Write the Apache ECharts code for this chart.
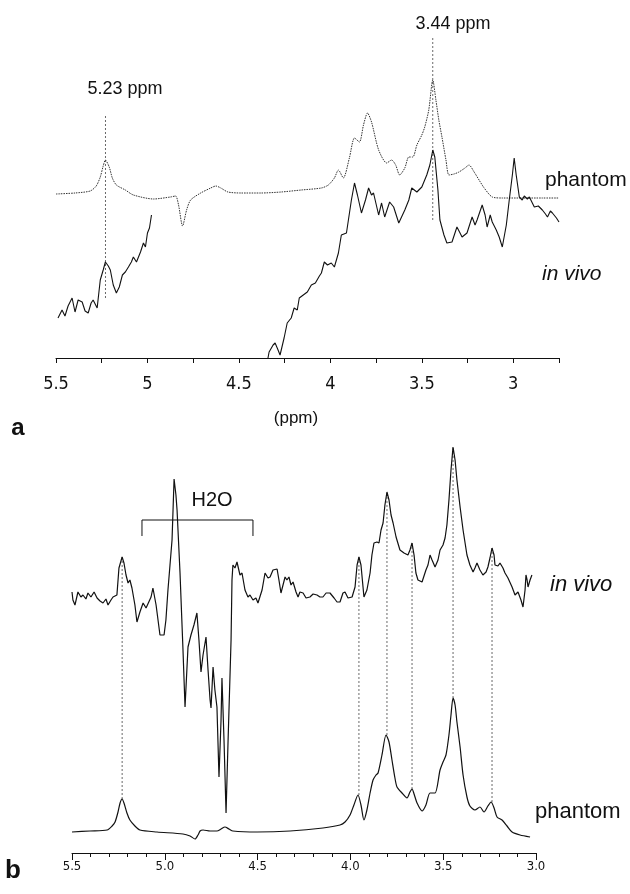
<!DOCTYPE html>
<html><head><meta charset="utf-8">
<script src="https://cdn.jsdelivr.net/npm/echarts@6.0.0/dist/echarts.min.js"></script>
<style>html,body{margin:0;padding:0;background:#fff}#c{width:630px;height:894px}</style>
</head><body><div id="c"></div>
<script>
// ---------- Panel a (ppm, intensity a.u.) ----------
const aPhantom = [[5.500,164],[5.396,165],[5.313,167],[5.280,172],[5.258,181],[5.242,192],[5.230,198],[5.209,191],[5.192,180],[5.170,173],[5.121,168],[5.077,163],[4.967,159],[4.874,161],[4.846,162],[4.830,153],[4.808,132],[4.786,148],[4.764,158],[4.709,165],[4.654,170],[4.626,172],[4.599,170],[4.560,166],[4.489,165],[4.379,165],[4.269,166],[4.159,168],[4.049,170],[4.011,173],[3.978,180],[3.956,188],[3.929,180],[3.896,200],[3.868,220],[3.841,216],[3.819,233],[3.797,245],[3.775,236],[3.736,208],[3.692,195],[3.665,198],[3.643,193],[3.621,183],[3.593,190],[3.571,201],[3.549,201],[3.527,213],[3.500,223],[3.484,231],[3.462,248],[3.440,278],[3.423,258],[3.407,238],[3.390,221],[3.368,198],[3.352,183],[3.324,184],[3.297,186],[3.264,190],[3.242,193],[3.214,186],[3.187,178],[3.159,170],[3.115,161],[3.060,160],[2.951,160],[2.841,160],[2.750,160]];
const aInvivoLeft = [[5.489,40],[5.467,48],[5.451,42],[5.434,52],[5.412,60],[5.396,46],[5.379,58],[5.357,56],[5.341,47],[5.324,45],[5.308,55],[5.297,58],[5.275,50],[5.258,78],[5.242,88],[5.230,96],[5.214,92],[5.203,88],[5.187,73],[5.170,65],[5.154,71],[5.137,83],[5.121,86],[5.104,91],[5.088,96],[5.077,101],[5.060,96],[5.038,106],[5.022,115],[5.011,111],[5.000,125],[4.989,130],[4.978,143]];
const aInvivoRight = [[4.341,0],[4.335,6],[4.313,13],[4.302,15],[4.286,8],[4.275,3],[4.253,20],[4.236,35],[4.214,40],[4.198,50],[4.181,48],[4.170,60],[4.148,63],[4.126,66],[4.104,73],[4.082,75],[4.060,82],[4.049,85],[4.033,96],[4.016,93],[3.995,95],[3.978,91],[3.956,105],[3.940,123],[3.912,125],[3.885,158],[3.868,175],[3.852,163],[3.830,145],[3.808,158],[3.791,170],[3.775,163],[3.764,165],[3.736,143],[3.720,155],[3.703,141],[3.676,156],[3.654,151],[3.626,135],[3.593,148],[3.571,158],[3.555,170],[3.527,166],[3.500,171],[3.473,183],[3.456,193],[3.440,208],[3.429,201],[3.412,168],[3.401,138],[3.379,123],[3.363,115],[3.335,116],[3.308,131],[3.291,125],[3.280,121],[3.253,125],[3.225,141],[3.209,133],[3.198,138],[3.170,153],[3.154,143],[3.143,131],[3.126,143],[3.115,136],[3.093,128],[3.077,121],[3.060,111],[3.038,133],[3.022,158],[3.005,183],[2.995,200],[2.984,183],[2.967,161],[2.951,158],[2.940,162],[2.923,159],[2.912,161],[2.885,151],[2.863,152],[2.841,148],[2.824,144],[2.813,141],[2.797,147],[2.786,145],[2.764,140],[2.750,136]];
const aMarkerPpm = [5.23, 3.44];
const aMarkerSpan = [[60,243],[138,321]];
const aMarkerText = ['5.23 ppm', '3.44 ppm'];
const aTickLabels = ['5.5','5','4.5','4','3.5','3'];

// ---------- Panel b ----------
const bInvivo = [[5.500,261],[5.495,253],[5.484,248],[5.468,261],[5.452,256],[5.441,258],[5.425,254],[5.414,260],[5.398,256],[5.381,261],[5.365,255],[5.349,252],[5.333,250],[5.317,254],[5.306,248],[5.290,253],[5.279,256],[5.258,258],[5.247,285],[5.230,296],[5.220,290],[5.209,278],[5.198,270],[5.188,273],[5.177,265],[5.161,248],[5.150,231],[5.134,241],[5.117,250],[5.101,245],[5.091,246],[5.074,256],[5.064,265],[5.047,248],[5.026,218],[5.004,218],[4.994,233],[4.983,263],[4.972,288],[4.961,313],[4.950,374],[4.940,358],[4.934,343],[4.918,280],[4.902,203],[4.891,146],[4.886,144],[4.875,206],[4.859,218],[4.843,228],[4.827,240],[4.816,213],[4.805,181],[4.794,198],[4.778,216],[4.767,183],[4.756,153],[4.751,145],[4.740,186],[4.730,163],[4.719,146],[4.708,76],[4.697,133],[4.692,175],[4.681,113],[4.670,40],[4.659,113],[4.643,213],[4.638,273],[4.633,288],[4.622,285],[4.611,291],[4.595,278],[4.584,280],[4.568,263],[4.552,256],[4.541,258],[4.525,253],[4.509,255],[4.498,250],[4.476,263],[4.460,280],[4.444,275],[4.433,276],[4.417,283],[4.395,284],[4.385,273],[4.374,260],[4.352,276],[4.342,273],[4.331,276],[4.320,268],[4.309,271],[4.293,261],[4.282,256],[4.272,261],[4.255,260],[4.239,255],[4.218,256],[4.201,259],[4.180,258],[4.164,256],[4.148,256],[4.131,260],[4.110,260],[4.088,255],[4.072,251],[4.056,251],[4.040,260],[4.029,261],[4.013,255],[3.991,256],[3.975,266],[3.964,288],[3.954,296],[3.943,288],[3.927,256],[3.911,263],[3.894,280],[3.884,298],[3.873,310],[3.857,311],[3.846,310],[3.835,323],[3.824,330],[3.814,348],[3.803,361],[3.792,353],[3.781,338],[3.770,330],[3.754,316],[3.733,303],[3.711,300],[3.690,298],[3.679,303],[3.668,310],[3.657,298],[3.647,280],[3.636,273],[3.614,271],[3.593,283],[3.582,288],[3.571,298],[3.560,293],[3.544,286],[3.528,293],[3.517,303],[3.501,308],[3.490,315],[3.480,328],[3.469,353],[3.458,383],[3.447,406],[3.436,393],[3.426,373],[3.409,346],[3.393,323],[3.372,298],[3.356,288],[3.339,281],[3.329,285],[3.318,290],[3.302,283],[3.286,278],[3.269,281],[3.259,286],[3.248,295],[3.237,305],[3.226,298],[3.221,288],[3.205,287],[3.194,290],[3.178,285],[3.167,280],[3.151,275],[3.129,266],[3.113,258],[3.097,261],[3.081,253],[3.070,246],[3.059,263],[3.054,278],[3.048,273],[3.043,266],[3.032,273],[3.022,278]];
const bPhantom = [[5.500,21],[5.403,22],[5.311,23],[5.284,27],[5.268,31],[5.252,41],[5.241,50],[5.230,54],[5.220,50],[5.204,40],[5.188,33],[5.161,27],[5.134,23],[5.042,21],[4.902,19],[4.864,17],[4.837,14],[4.821,18],[4.810,22],[4.794,23],[4.756,22],[4.719,22],[4.697,24],[4.676,26],[4.654,24],[4.633,22],[4.503,21],[4.325,22],[4.148,25],[4.056,28],[4.029,31],[4.002,38],[3.981,48],[3.959,58],[3.943,48],[3.927,33],[3.911,43],[3.894,60],[3.878,73],[3.862,78],[3.851,80],[3.830,98],[3.808,118],[3.792,111],[3.776,93],[3.760,75],[3.749,66],[3.722,60],[3.695,55],[3.679,61],[3.668,64],[3.657,59],[3.641,50],[3.614,42],[3.593,48],[3.571,60],[3.544,60],[3.517,83],[3.501,91],[3.485,98],[3.469,118],[3.458,138],[3.447,155],[3.436,148],[3.426,131],[3.409,106],[3.393,78],[3.372,56],[3.356,47],[3.329,43],[3.302,46],[3.280,41],[3.259,47],[3.242,51],[3.226,45],[3.210,36],[3.183,33],[3.156,27],[3.129,21],[3.086,18],[3.032,16]];
const bMarkerPpm = [5.23, 3.954, 3.803, 3.668, 3.447, 3.237];
const bMarkerSpan = [[54,296],[58,296],[118,361],[64,310],[155,406],[51,305]];
const bH2ORange = [5.123, 4.525];
const bH2OLevels = [317, 333];

// ---------- chart ----------
const chart = echarts.init(document.getElementById('c'), null, {renderer: 'canvas'});
const INK = '#111';
const NARROW = "'Liberation Sans Narrow','Arial Narrow','DejaVu Sans Condensed','Liberation Sans',sans-serif";
const SANS = "'Liberation Sans',Arial,Helvetica,sans-serif";

function lineSeries(idx, data, style, z, smooth) {
  return {type: 'line', xAxisIndex: idx, yAxisIndex: idx, data: data, symbol: 'none', showSymbol: false,
    smooth: smooth || false, silent: true, animation: false, z: z || 3, lineStyle: style};
}
const markerStyle = {color: '#444', width: 0.8, type: [2, 2]};
const series = [];
aMarkerPpm.forEach((p, i) => series.push(lineSeries(0, [[p, aMarkerSpan[i][0]], [p, aMarkerSpan[i][1]]], markerStyle, 2)));
series.push(lineSeries(0, aPhantom, {color: '#333', width: 1, type: [1.5, 1]}, 3, 0.25));
series.push(lineSeries(0, aInvivoLeft, {color: INK, width: 1.1}, 4));
series.push(lineSeries(0, aInvivoRight, {color: INK, width: 1.1}, 4));
bMarkerPpm.forEach((p, i) => series.push(lineSeries(1, [[p, bMarkerSpan[i][0]], [p, bMarkerSpan[i][1]]], markerStyle, 2)));
series.push(lineSeries(1, bPhantom, {color: INK, width: 1.2}, 4, 0.25));
series.push(lineSeries(1, bInvivo, {color: INK, width: 1.2}, 4));
series.push(lineSeries(1, [[bH2ORange[0], bH2OLevels[0]], [bH2ORange[0], bH2OLevels[1]], [bH2ORange[1], bH2OLevels[1]], [bH2ORange[1], bH2OLevels[0]]], {color: INK, width: 1}, 4));

function txt(x, y, text, font, align) {
  return {type: 'text', x: x, y: y, silent: true, z: 10,
    style: {text: text, font: font, fill: INK, textAlign: align || 'center', textVerticalAlign: 'middle', align: align || 'center', verticalAlign: 'middle'}};
}

chart.setOption({
  backgroundColor: '#fff',
  animation: false,
  grid: [
    {left: 56, right: 71, top: 8, bottom: 536},
    {left: 72, right: 94, top: 440, bottom: 41}
  ],
  xAxis: [
    {gridIndex: 0, type: 'value', inverse: true, min: 2.75, max: 5.5, interval: 0.25, position: 'bottom',
      axisLine: {onZero: false, lineStyle: {color: INK, width: 1}},
      axisTick: {show: true, length: 5, lineStyle: {color: INK}},
      splitLine: {show: false},
      axisLabel: {margin: 17, color: INK, fontSize: 18, fontFamily: NARROW, showMinLabel: true, showMaxLabel: true,
        formatter: v => aTickLabels.indexOf(String(+(+v).toFixed(2))) >= 0 ? String(+(+v).toFixed(2)) : ''}},
    {gridIndex: 1, type: 'value', inverse: true, min: 3.0, max: 5.5, interval: 0.5, position: 'bottom',
      axisLine: {onZero: false, lineStyle: {color: INK, width: 1}},
      axisTick: {show: true, length: 7, lineStyle: {color: INK}},
      minorTick: {show: true, splitNumber: 5, length: 4, lineStyle: {color: INK}},
      splitLine: {show: false},
      axisLabel: {margin: 7, color: INK, fontSize: 13, fontFamily: NARROW, showMinLabel: true, showMaxLabel: true,
        formatter: v => (+v).toFixed(1)}}
  ],
  yAxis: [
    {gridIndex: 0, type: 'value', min: 0, max: 350, show: false},
    {gridIndex: 1, type: 'value', min: 0, max: 413, show: false}
  ],
  series: series,
  graphic: [
    txt(125, 89, aMarkerText[0], '18px ' + SANS),
    txt(453, 24, aMarkerText[1], '18px ' + SANS),
    txt(545, 180, 'phantom', '21px ' + SANS, 'left'),
    txt(542, 274, 'in vivo', 'italic 21px ' + SANS, 'left'),
    txt(296, 418, '(ppm)', '17px ' + SANS),
    txt(18, 428, 'a', 'bold 24px ' + SANS),
    txt(212, 500, 'H2O', '20px ' + SANS),
    txt(550, 585, 'in vivo', 'italic 22px ' + SANS, 'left'),
    txt(535, 812, 'phantom', '22px ' + SANS, 'left'),
    txt(13, 871, 'b', 'bold 26px ' + SANS)
  ]
});
</script>
</body></html>
